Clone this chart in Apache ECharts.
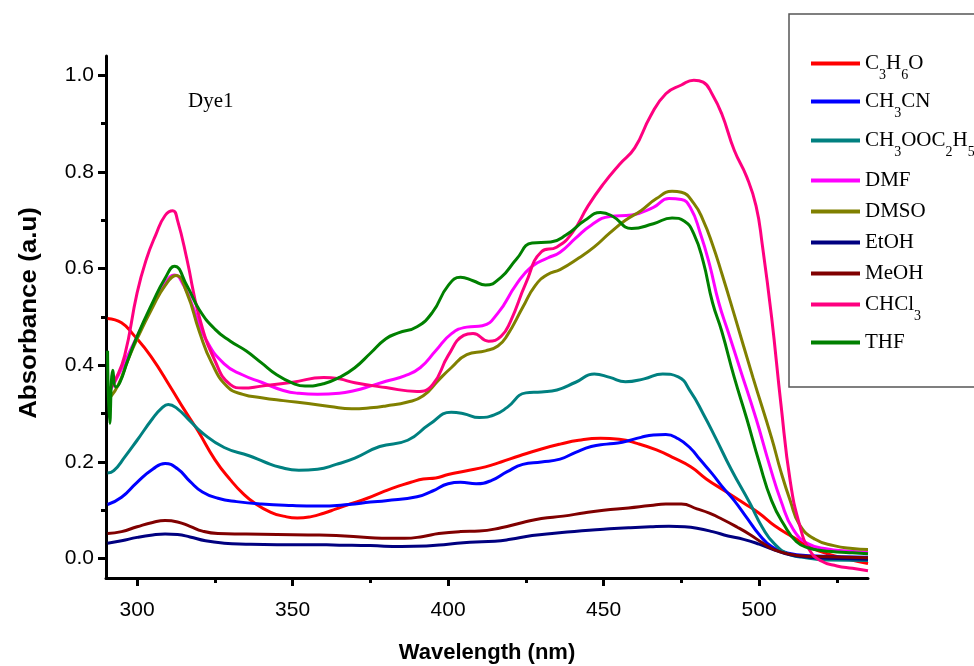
<!DOCTYPE html>
<html>
<head>
<meta charset="utf-8">
<title>Dye1 absorption spectra</title>
<script src="https://cdn.jsdelivr.net/npm/echarts@6/dist/echarts.min.js"></script>
<style>
  html, body { margin: 0; padding: 0; background: #fff; }
  #chart { width: 974px; height: 666px; }
</style>
</head>
<body>
<div id="chart"></div>
<script>
// Solvent names (digits are rendered as subscripts in the legend)
const solvents = ['C3H6O', 'CH3CN', 'CH3OOC2H5', 'DMF', 'DMSO', 'EtOH', 'MeOH', 'CHCl3', 'THF'];

// Absorption spectra: [wavelength (nm), absorbance (a.u)]
const c3h6o = [[290.5,0.497],[295,0.488],[299,0.462],[304.5,0.418],[311,0.352],[315,0.31],[319.5,0.265],[325,0.205],[330,0.163],[334,0.135],[338,0.114],[343,0.096],[347,0.088],[351.5,0.084],[356,0.087],[360,0.094],[364,0.103],[368,0.112],[374,0.125],[379,0.138],[384,0.15],[388,0.158],[392,0.165],[396,0.167],[400,0.174],[406,0.182],[412,0.19],[417,0.2],[423,0.213],[430,0.227],[436,0.237],[442,0.245],[449,0.249],[455,0.247],[461,0.238],[467,0.225],[472,0.21],[478,0.19],[483,0.165],[489,0.14],[495,0.115],[500,0.094],[505,0.068],[511,0.044],[516,0.025],[522,0.01],[528,0.0],[535,-0.01]];
const ch3cn = [[290.5,0.112],[295,0.127],[300,0.158],[305,0.185],[309,0.197],[313,0.186],[317,0.16],[321,0.138],[326,0.125],[332,0.118],[340,0.113],[350,0.11],[358,0.109],[368,0.112],[375,0.117],[380,0.12],[390,0.128],[395,0.14],[400,0.155],[404,0.158],[409,0.155],[414,0.162],[419,0.18],[424,0.195],[430,0.2],[436,0.206],[441,0.22],[446,0.232],[451,0.237],[456,0.241],[462,0.251],[466,0.256],[470,0.257],[474,0.248],[478,0.228],[481,0.205],[485,0.175],[488,0.15],[492,0.12],[496,0.085],[500,0.05],[504,0.025],[509,0.012],[516,0.006],[535,0.003]];
const ch3ooc2h5 = [[290.5,0.177],[292.5,0.182],[296,0.21],[300,0.245],[305,0.29],[308,0.312],[310,0.319],[313,0.31],[317,0.285],[321,0.26],[328,0.23],[336,0.213],[341,0.2],[346,0.189],[352,0.183],[358,0.185],[364,0.195],[370,0.208],[378,0.232],[387,0.245],[394,0.278],[401,0.303],[405,0.3],[410,0.292],[415,0.298],[419,0.313],[425,0.343],[430,0.345],[435,0.349],[441,0.365],[447,0.382],[452,0.375],[457,0.366],[463,0.372],[469,0.382],[474,0.376],[478,0.345],[482,0.3],[486,0.25],[491,0.185],[497,0.115],[501,0.065],[505,0.03],[510,0.008],[515,0.002],[522,-0.003],[535,-0.004]];
const dmf = [[291.5,0.35],[294,0.38],[297,0.42],[300,0.46],[305,0.525],[309,0.57],[312,0.587],[315,0.565],[318,0.52],[322,0.455],[328,0.403],[334,0.38],[340,0.365],[347,0.348],[352,0.342],[358,0.34],[365,0.342],[370,0.348],[375,0.357],[380,0.367],[386,0.378],[391,0.395],[396,0.43],[401,0.465],[406,0.479],[411,0.482],[416,0.508],[422,0.568],[427,0.605],[432,0.622],[436,0.634],[441,0.663],[446,0.69],[452,0.708],[459,0.711],[466,0.727],[471,0.745],[475,0.743],[478,0.725],[481,0.675],[484,0.61],[487,0.53],[490,0.47],[494,0.39],[499,0.29],[503.5,0.19],[507,0.12],[511,0.06],[516,0.03],[522,0.02],[528,0.016],[535,0.013]];
const dmso = [[291.5,0.335],[294,0.36],[297,0.41],[300,0.455],[305,0.52],[309,0.565],[312.5,0.586],[316,0.55],[320,0.47],[324,0.405],[329,0.356],[334,0.34],[340,0.333],[347,0.327],[355,0.321],[362,0.315],[369,0.31],[375,0.312],[380,0.316],[387,0.324],[392,0.337],[397,0.37],[401,0.395],[406,0.422],[412,0.43],[416,0.44],[419,0.462],[424,0.52],[428,0.565],[432,0.588],[436,0.598],[442,0.622],[447,0.645],[452,0.674],[457,0.7],[462,0.72],[467,0.745],[472,0.76],[475,0.758],[479,0.735],[482,0.7],[485,0.65],[488,0.59],[492,0.505],[498,0.375],[504,0.25],[507,0.18],[510,0.12],[513,0.07],[518,0.04],[524,0.027],[530,0.021],[535,0.019]];
const etoh = [[290.5,0.032],[295,0.037],[300,0.044],[305,0.049],[309,0.051],[313,0.05],[317,0.045],[322,0.037],[328,0.032],[335,0.03],[345,0.029],[355,0.029],[365,0.028],[375,0.027],[385,0.025],[393,0.026],[400,0.03],[407,0.034],[415,0.036],[420,0.04],[427,0.048],[435,0.053],[443,0.058],[450,0.061],[458,0.064],[465,0.066],[471,0.067],[476,0.066],[480,0.063],[485,0.056],[490,0.047],[495,0.04],[500,0.03],[505,0.018],[510,0.008],[516,0.003],[522,0.001],[535,-0.001]];
const meoh = [[290.5,0.052],[295,0.056],[300,0.066],[305,0.075],[309,0.079],[313,0.076],[317,0.067],[321,0.057],[326,0.052],[335,0.051],[345,0.05],[355,0.049],[364,0.048],[374,0.044],[381,0.042],[386,0.042],[392,0.046],[397,0.052],[404,0.056],[410,0.057],[417,0.064],[424,0.075],[430,0.083],[437,0.088],[444,0.095],[450,0.1],[458,0.105],[465,0.11],[470,0.113],[475,0.113],[480,0.103],[484,0.094],[488,0.082],[493,0.065],[497,0.05],[501,0.033],[505,0.018],[510,0.009],[515,0.005],[522,0.004],[535,0.002]];
const chcl3 = [[291,0.35],[293,0.37],[296,0.42],[300,0.55],[303,0.62],[306,0.67],[309,0.71],[311.5,0.72],[313,0.7],[316,0.62],[320,0.5],[325,0.41],[330,0.36],[334,0.353],[340,0.357],[350,0.365],[360,0.375],[365,0.372],[370,0.364],[380,0.354],[390,0.346],[395,0.36],[400,0.42],[405,0.462],[408,0.466],[413,0.45],[417,0.46],[420,0.49],[425,0.57],[430,0.635],[435,0.645],[440,0.675],[445,0.73],[450,0.776],[455,0.815],[460,0.85],[465,0.915],[470,0.962],[475,0.98],[479,0.99],[482,0.986],[485,0.96],[488,0.92],[492,0.845],[496,0.79],[499,0.73],[501,0.65],[504,0.5],[507,0.32],[510,0.16],[513,0.07],[516,0.02],[520,-0.005],[525,-0.015],[530,-0.02],[535,-0.025]];
const thf = [[290.5,0.43],[291.2,0.28],[292.2,0.39],[293.2,0.355],[294.5,0.365],[297,0.41],[300,0.46],[305,0.53],[309,0.58],[312,0.605],[316,0.565],[320,0.515],[325,0.475],[330,0.45],[335,0.43],[340,0.405],[345,0.38],[350,0.363],[354,0.357],[360,0.362],[365,0.375],[370,0.395],[375,0.425],[380,0.455],[384,0.467],[390,0.48],[395,0.51],[400,0.565],[404,0.582],[408,0.575],[412,0.566],[417,0.582],[422,0.62],[427,0.653],[433,0.655],[438,0.67],[444,0.7],[449,0.716],[453,0.708],[459,0.683],[466,0.693],[472,0.705],[476,0.698],[479,0.672],[482,0.615],[485,0.53],[488,0.47],[492,0.375],[496,0.29],[500,0.2],[504,0.12],[508,0.07],[512,0.035],[516,0.022],[520,0.017],[525,0.014],[530,0.012],[535,0.01]];

const spectra = [c3h6o, ch3cn, ch3ooc2h5, dmf, dmso, etoh, meoh, chcl3, thf];

// Axis ticks
const xTickValues = [300, 350, 400, 450, 500];
const xMinorTicks = [325, 375, 425, 475, 525];
const yTickValues = [0.0, 0.2, 0.4, 0.6, 0.8, 1.0];
const yMinorTicks = [0.1, 0.3, 0.5, 0.7, 0.9];

// Styling
const lineColors = ['#ff0000', '#0000ff', '#008080', '#ff00ff', '#808000', '#000080', '#800000', '#ff0080', '#008000'];
const legendRowY = [62, 100, 139, 179, 210, 241, 272, 303, 341];

const sansFont = "'Liberation Sans', Arial, sans-serif";
const serifFont = "'Liberation Serif', 'Times New Roman', serif";

function richName(name) {
  return name.split(/(\d+)/).filter(Boolean)
    .map(p => /^\d+$/.test(p) ? '{s|' + p + '}' : '{n|' + p + '}').join('');
}

const chart = echarts.init(document.getElementById('chart'), null, { renderer: 'canvas' });

const axisLineStyle = { color: '#000', width: 3 };

const legends = solvents.map((name, i) => ({
  data: [name],
  left: 811,
  top: legendRowY[i] - 9,
  padding: 0,
  orient: 'vertical',
  icon: 'rect',
  itemWidth: 49,
  itemHeight: 4,
  formatter: richName,
  textStyle: {
    rich: {
      n: { fontFamily: serifFont, fontSize: 21, color: '#000', lineHeight: 37, verticalAlign: 'middle' },
      s: { fontFamily: serifFont, fontSize: 14, color: '#000', lineHeight: 20, verticalAlign: 'bottom' }
    }
  }
}));

chart.setOption({
  animation: false,
  backgroundColor: '#fff',
  grid: { left: 106, right: 106, top: 56, bottom: 88, containLabel: false, outerBoundsMode: 'none' },
  legend: legends,
  xAxis: [
    {
      type: 'value', min: 290, max: 535, position: 'bottom',
      name: 'Wavelength (nm)', nameLocation: 'middle', nameGap: 64,
      nameTextStyle: { fontFamily: sansFont, fontWeight: 'bold', fontSize: 22, color: '#000' },
      axisLine: { show: true, onZero: false, lineStyle: axisLineStyle },
      axisTick: { show: true, inside: false, length: 8, customValues: xTickValues, lineStyle: { color: '#000', width: 3 } },
      axisLabel: { show: true, customValues: xTickValues, margin: 22, fontFamily: sansFont, fontSize: 21, color: '#000' },
      splitLine: { show: false }
    },
    {
      type: 'value', min: 290, max: 535, position: 'bottom', gridIndex: 0,
      axisLine: { show: false, onZero: false },
      axisTick: { show: true, inside: false, length: 5, customValues: xMinorTicks, lineStyle: { color: '#000', width: 3 } },
      axisLabel: { show: false },
      splitLine: { show: false }
    }
  ],
  yAxis: [
    {
      type: 'value', min: -0.04, max: 1.04, position: 'left',
      axisLine: { show: true, onZero: false, lineStyle: axisLineStyle },
      axisTick: { show: true, inside: false, length: 8, customValues: yTickValues, lineStyle: { color: '#000', width: 3 } },
      axisLabel: { show: true, customValues: yTickValues, margin: 12, fontFamily: sansFont, fontSize: 21, color: '#000',
        formatter: v => Number(v).toFixed(1) },
      splitLine: { show: false }
    },
    {
      type: 'value', min: -0.04, max: 1.04, position: 'left', gridIndex: 0,
      axisLine: { show: false, onZero: false },
      axisTick: { show: true, inside: false, length: 5, customValues: yMinorTicks, lineStyle: { color: '#000', width: 3 } },
      axisLabel: { show: false },
      splitLine: { show: false }
    }
  ],
  graphic: [
    {
      type: 'rect', z: 100,
      shape: { x: 789, y: 14, width: 220, height: 373 },
      style: { fill: 'none', stroke: '#555', lineWidth: 1.5 }
    },
    {
      type: 'text', left: 188, top: 91,
      style: { text: 'Dye1', font: '21px ' + serifFont, fill: '#000' }
    },
    {
      type: 'text', x: 29, y: 313, rotation: Math.PI / 2, scaleX: 1.08,
      style: { text: 'Absorbance (a.u)', font: 'bold 24px ' + sansFont, fill: '#000', textAlign: 'center', textVerticalAlign: 'middle' }
    }
  ],
  series: solvents.map((name, i) => ({
    name: name,
    type: 'line',
    xAxisIndex: 0,
    yAxisIndex: 0,
    data: spectra[i],
    showSymbol: false,
    symbol: 'none',
    smooth: 0.5,
    lineStyle: { color: lineColors[i], width: 3 },
    itemStyle: { color: lineColors[i] },
    z: 2 + i
  }))
});
</script>
</body>
</html>
